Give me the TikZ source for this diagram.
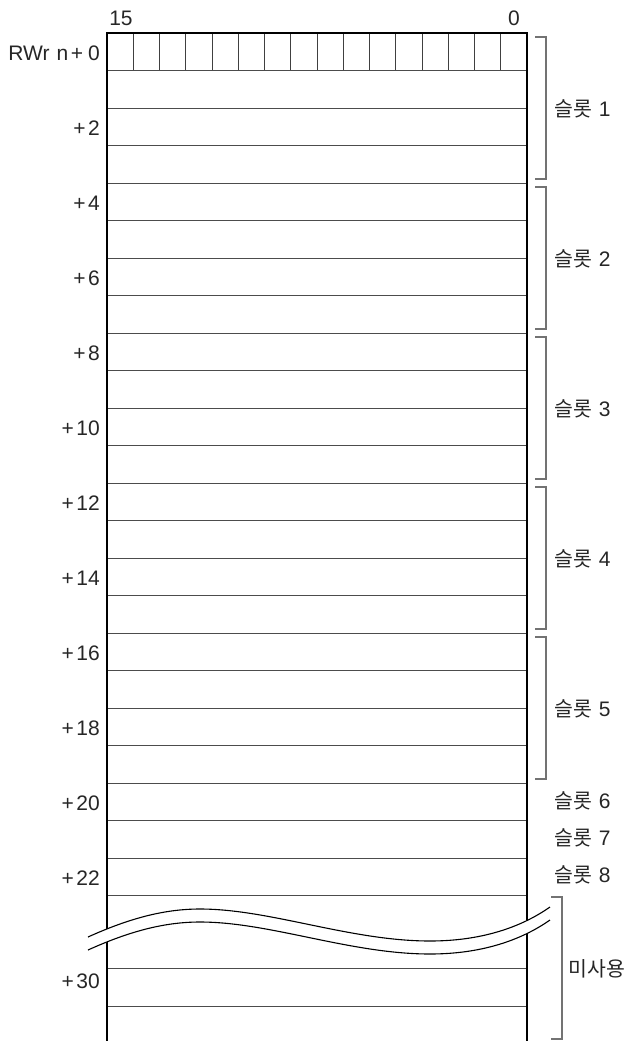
\documentclass[tikz,border=0pt]{standalone}
\usepackage{fontspec}
\setmainfont{Liberation Sans}
\newfontfamily\kr{Noto Sans CJK KR}
\newcommand\kortxt[1]{{\kr\fontsize{20.5}{20.5}\selectfont #1}}
\begin{document}
\begin{tikzpicture}[x=1pt,y=-1pt,
  rowline/.style={line width=1pt,draw=black!70},
  bitline/.style={line width=0.9pt,draw=black!75},
  frame/.style={line width=2.2pt,draw=black},
  brace/.style={line width=1.2pt,draw=black!55},
  wave/.style={line width=1.1pt,draw=black},
  lab/.style={font=\fontsize{21}{21}\selectfont,text=black!85,inner sep=0pt,text height=15pt,text depth=0pt},
  rlab/.style={lab,anchor=east},
  klab/.style={font=\fontsize{21}{21}\selectfont,text=black!85,inner sep=0pt,anchor=west,text height=16pt,text depth=1pt}]
\useasboundingbox (0,0) rectangle (632,1041);
% row lines
\foreach \r in {1,...,23} \draw[rowline] (107,{33+37.5*\r}) -- (527,{33+37.5*\r});
\draw[rowline] (107,968) -- (527,968);
\draw[rowline] (107,1006) -- (527,1006);
% bit cells
\foreach \b in {1,...,15} \draw[bitline] ({107+26.25*\b},33) -- ({107+26.25*\b},70.5);
% frame
\draw[frame] (107,1046) -- (107,33) -- (527,33) -- (527,1046);
% break
\fill[white] (88,937) .. controls (130,918) and (165,909) .. (200,909)
  .. controls (270,909) and (350,941) .. (430,941)
  .. controls (480,941) and (520,928) .. (550,907)
  -- (550,920) .. controls (520,941) and (480,954) .. (430,954)
  .. controls (350,954) and (270,922) .. (200,922)
  .. controls (165,922) and (130,931) .. (88,950) -- cycle;
\draw[wave] (88,937) .. controls (130,918) and (165,909) .. (200,909)
  .. controls (270,909) and (350,941) .. (430,941)
  .. controls (480,941) and (520,928) .. (550,907);
\draw[wave] (88,950) .. controls (130,931) and (165,922) .. (200,922)
  .. controls (270,922) and (350,954) .. (430,954)
  .. controls (480,954) and (520,941) .. (550,920);
% bit labels
\node[lab] (b15) at (121,18.5) {15};
\node[lab] (b0) at (514,18.5) {0};
% row labels
\node[rlab] (r0) at (100,52.75) {RWr\hspace{7pt}n\kern2.5pt+\kern5pt0};
\node[rlab] (r2) at (100,127.75) {+\kern2.5pt2};
\node[rlab] (r4) at (100,202.75) {+\kern2.5pt4};
\node[rlab] (r6) at (100,277.75) {+\kern2.5pt6};
\node[rlab] (r8) at (100,352.75) {+\kern2.5pt8};
\node[rlab] (r10) at (100,427.75) {+\kern2.5pt10};
\node[rlab] (r12) at (100,502.75) {+\kern2.5pt12};
\node[rlab] (r14) at (100,577.75) {+\kern2.5pt14};
\node[rlab] (r16) at (100,652.75) {+\kern2.5pt16};
\node[rlab] (r18) at (100,727.75) {+\kern2.5pt18};
\node[rlab] (r20) at (100,802.75) {+\kern2.5pt20};
\node[rlab] (r22) at (100,877.75) {+\kern2.5pt22};
\node[rlab] (r30) at (100,981) {+\kern2.5pt30};
% brackets
\foreach \k in {0,...,4}
  \draw[brace] (535,{37+150*\k}) -- (546,{37+150*\k}) -- (546,{179+150*\k}) -- (535,{179+150*\k});
\draw[brace] (551,897) -- (562,897) -- (562,1039) -- (551,1039);
% slot labels
\node[klab] (s1) at (554,109) {\kortxt{슬롯}\hspace{7pt}1};
\node[klab] (s2) at (554,259) {\kortxt{슬롯}\hspace{7pt}2};
\node[klab] (s3) at (554,409) {\kortxt{슬롯}\hspace{7pt}3};
\node[klab] (s4) at (554,559) {\kortxt{슬롯}\hspace{7pt}4};
\node[klab] (s5) at (554,709) {\kortxt{슬롯}\hspace{7pt}5};
\node[klab] (s6) at (554,801) {\kortxt{슬롯}\hspace{7pt}6};
\node[klab] (s7) at (554,838) {\kortxt{슬롯}\hspace{7pt}7};
\node[klab] (s8) at (554,875) {\kortxt{슬롯}\hspace{7pt}8};
\node[klab] (unused) at (568,969) {\kortxt{미\kern0.5pt사\kern0.5pt용}};
\end{tikzpicture}
\end{document}
